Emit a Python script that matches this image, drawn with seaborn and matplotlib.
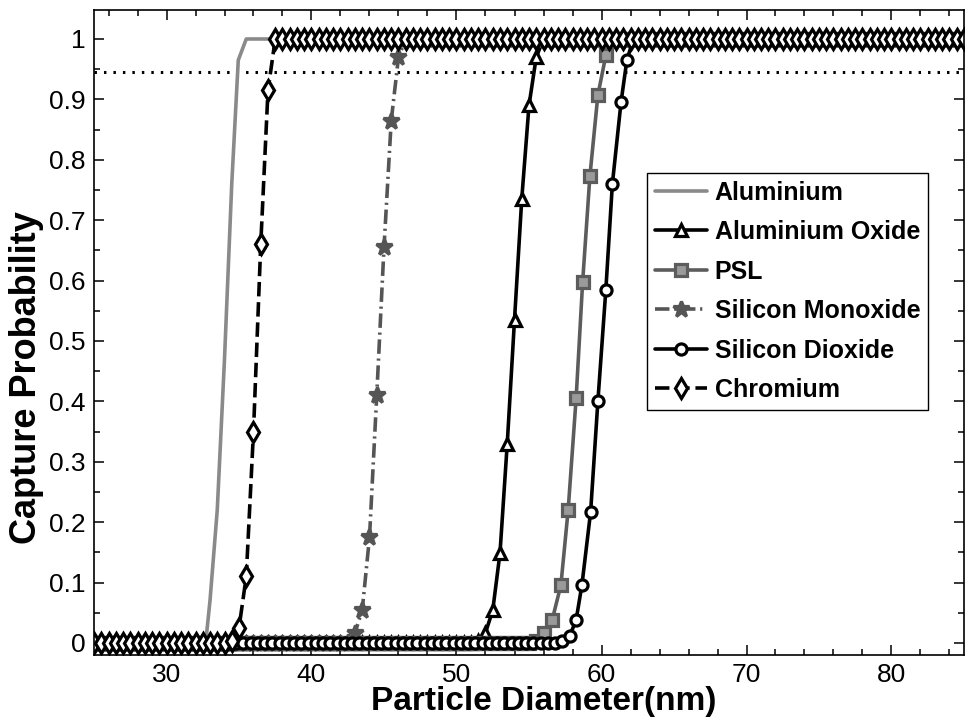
import numpy as np
import pandas as pd
import matplotlib
matplotlib.use("Agg")
import matplotlib.pyplot as plt
from matplotlib.ticker import MultipleLocator, FixedLocator, FixedFormatter
import seaborn as sns

sns.set_theme(style="ticks")
plt.rcParams['font.family'] = ['Liberation Sans', 'DejaVu Sans']
plt.rcParams['text.color'] = 'black'
plt.rcParams['axes.labelcolor'] = 'black'
plt.rcParams['xtick.color'] = 'black'
plt.rcParams['ytick.color'] = 'black'

# ---------------- data ----------------
X_MIN, X_MAX = 25, 85
STEP = 0.5
THRESHOLD = 0.945

x_ticks = [30, 40, 50, 60, 70, 80]
x_tick_labels = ['30', '40', '50', '60', '70', '80']
y_ticks = [0, 0.1, 0.2, 0.3, 0.4, 0.5, 0.6, 0.7, 0.8, 0.9, 1.0]
y_tick_labels = ['0', '0.1', '0.2', '0.3', '0.4', '0.5', '0.6', '0.7', '0.8', '0.9', '1']

# transition segments (x in nm, capture probability)
al_x = [32.7, 33.0, 33.5, 34.0, 34.5, 34.95, 35.5]
al_y = [0.0, 0.07, 0.22, 0.47, 0.76, 0.965, 1.0]

al2o3_x = [51.5, 52.0, 52.5, 53.0, 53.5, 54.0, 54.5, 55.0, 55.5, 56.0]
al2o3_y = [0.003, 0.017, 0.054, 0.149, 0.33, 0.535, 0.735, 0.89, 0.97, 1.0]

psl_x = [55.5, 56.05, 56.6, 57.2, 57.7, 58.25, 58.7, 59.2, 59.75, 60.3, 60.8]
psl_y = [0.004, 0.016, 0.038, 0.096, 0.22, 0.405, 0.598, 0.773, 0.907, 0.973, 1.0]

sio_x = [42.5, 43.0, 43.5, 44.0, 44.5, 45.0, 45.5, 46.0, 46.5]
sio_y = [0.002, 0.017, 0.055, 0.175, 0.41, 0.655, 0.865, 0.97, 1.0]

sio2_x = [56.8, 57.3, 57.8, 58.25, 58.65, 59.25, 59.75, 60.3, 60.75, 61.35, 61.75, 62.2]
sio2_y = [0.0, 0.003, 0.011, 0.038, 0.096, 0.217, 0.40, 0.585, 0.76, 0.896, 0.965, 1.0]

cr_x = [34.5, 35.0, 35.5, 36.0, 36.5, 37.0, 37.5]
cr_y = [0.003, 0.025, 0.11, 0.35, 0.66, 0.915, 1.0]


def full_series(tx, ty):
    """Flat 0 before the transition and flat 1 after it, sampled every STEP nm."""
    lead = np.arange(tx[0] - STEP, X_MIN - 1e-9, -STEP)[::-1]
    tail = np.arange(tx[-1] + STEP, X_MAX + 1e-9, STEP)
    x = np.concatenate([lead, tx, tail])
    y = np.concatenate([np.zeros(len(lead)), ty, np.ones(len(tail))])
    return x, y


series = [
    dict(name='Aluminium', tx=al_x, ty=al_y, color='#8a8a8a', marker=None,
         ls='-', mfc=None, ms=0),
    dict(name='Aluminium Oxide', tx=al2o3_x, ty=al2o3_y, color='black', marker='^',
         ls='-', mfc='white', ms=8),
    dict(name='PSL', tx=psl_x, ty=psl_y, color='#5c5c5c', marker='s',
         ls='-', mfc='#9a9a9a', ms=8),
    dict(name='Silicon Monoxide', tx=sio_x, ty=sio_y, color='#555555', marker='*',
         ls=(0, (4, 1.3, 0.6, 1.3)), mfc='#555555', ms=12),
    dict(name='Silicon Dioxide', tx=sio2_x, ty=sio2_y, color='black', marker='o',
         ls='-', mfc='white', ms=8),
    dict(name='Chromium', tx=cr_x, ty=cr_y, color='black', marker='d',
         ls=(0, (4, 1.6)), mfc='white', ms=10),
]

# ---------------- figure ----------------
W, H = 970, 728
fig = plt.figure(figsize=(W / 100, H / 100), dpi=100)
fig.patch.set_facecolor('white')
ax = fig.add_axes([94 / W, 1 - 655 / H, (964 - 94) / W, (655 - 10) / H])
ax.set_facecolor('white')

ax.axhline(THRESHOLD, color='black', lw=2.2, ls=(0, (0.8, 2.3)), zorder=1)

for s in series:
    x, y = full_series(np.array(s['tx']), np.array(s['ty']))
    df = pd.DataFrame({'x': x, 'y': y})
    kw = dict(color=s['color'], lw=2.6, linestyle=s['ls'], label=s['name'])
    if s['marker'] is not None:
        kw.update(marker=s['marker'], markersize=s['ms'], markerfacecolor=s['mfc'],
                  markeredgecolor=s['color'], markeredgewidth=2.3)
    sns.lineplot(data=df, x='x', y='y', ax=ax, sort=False, estimator=None, **kw)

ax.set_xlim(X_MIN, X_MAX)
ax.set_ylim(-0.02, 1.048)

ax.xaxis.set_major_locator(FixedLocator(x_ticks))
ax.xaxis.set_major_formatter(FixedFormatter(x_tick_labels))
ax.xaxis.set_minor_locator(MultipleLocator(2))
ax.yaxis.set_major_locator(FixedLocator(y_ticks))
ax.yaxis.set_major_formatter(FixedFormatter(y_tick_labels))
ax.yaxis.set_minor_locator(MultipleLocator(0.05))

ax.tick_params(which='both', direction='in', top=True, right=True, colors='black',
               labelcolor='black', labelsize=19, width=1.1)
ax.tick_params(which='major', length=7, pad=6)
ax.tick_params(which='minor', length=4)
for sp in ax.spines.values():
    sp.set_visible(True)
    sp.set_color('black')
    sp.set_linewidth(1.2)

ax.set_xlabel('Particle Diameter(nm)', fontsize=24, fontweight='bold', color='black')
ax.set_ylabel('Capture Probability', fontsize=26, fontweight='bold', color='black')
ax.xaxis.set_label_coords(0.517, -0.048)
ax.yaxis.set_label_coords(-0.058, 0.43)

leg = ax.legend(loc='upper left', bbox_to_anchor=(0.636, 0.747), borderaxespad=0,
                prop={'weight': 'bold', 'size': 18}, frameon=True,
                fancybox=False, edgecolor='black', framealpha=1, numpoints=1,
                handlelength=2.1, handletextpad=0.3, labelspacing=0.62, borderpad=0.3)
leg.get_frame().set_linewidth(1.0)
for t in leg.get_texts():
    t.set_color('black')

fig.savefig('out.png', dpi=100, facecolor='white')
